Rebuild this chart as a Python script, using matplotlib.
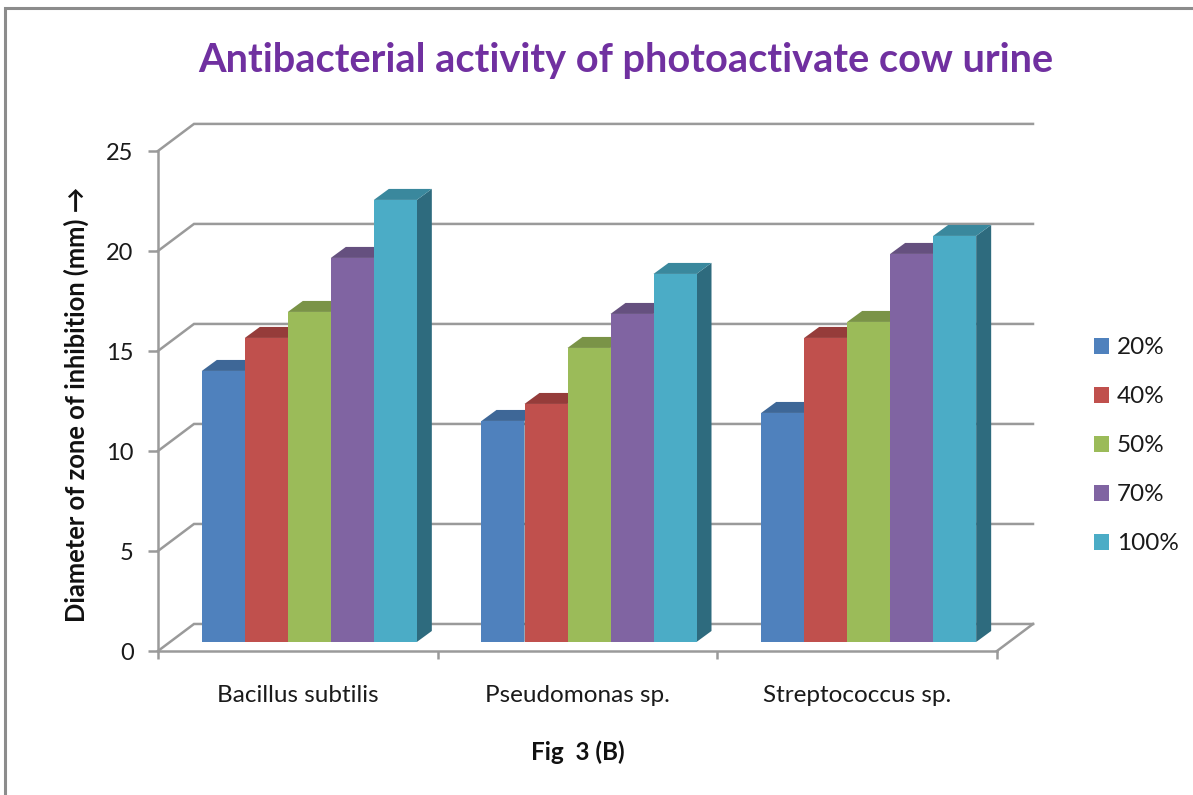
import matplotlib
matplotlib.use('Agg')
import matplotlib.pyplot as plt
from matplotlib.patches import Polygon, Patch

W, H = 1193, 795

categories = ['Bacillus subtilis', 'Pseudomonas sp.', 'Streptococcus sp.']
series = ['20%', '40%', '50%', '70%', '100%']
v20 = [13.55, 11.05, 11.45]
v40 = [15.2, 11.9, 15.2]
v50 = [16.5, 14.7, 16.0]
v70 = [19.2, 16.4, 19.4]
v100 = [22.1, 18.4, 20.3]
values = [v20, v40, v50, v70, v100]
yticks = [0, 5, 10, 15, 20, 25]

front = ['#4F81BD', '#C0504D', '#9BBB59', '#8064A2', '#4BACC6']
top = ['#3E6797', '#953C3A', '#7A9347', '#65507F', '#3A889D']
side = ['#32506F', '#6F2E2C', '#5B6E35', '#4B3B60', '#2E6B7E']
gridc = '#9A9A9A'

plt.rcParams['font.family'] = ['Lato', 'DejaVu Sans']

fig = plt.figure(figsize=(W / 100, (H + 0.1) / 100), dpi=100)
ax = fig.add_axes([158 / W, 1 - 651 / H, 839 / W, 500 / H])
ax.set_xlim(0, 3)
ax.set_ylim(0, 25)
ax.patch.set_alpha(0)

px = 3 / 839      # data units per pixel in x
py = 25 / 500     # same in y

# back wall and floor
bdx = 36 * px
bdy = 27 * py
for t in yticks:
    ax.plot([0, bdx, 3 + bdx], [t, t + bdy, t + bdy], color=gridc, lw=1.8,
            clip_on=False, zorder=1, solid_joinstyle='miter')
ax.plot([3, 3 + bdx], [0, bdy], color=gridc, lw=1.8, clip_on=False, zorder=1)

# bars, sitting a little behind the front plane
bw = 43 * px
ddx = 15 * px
ddy = 11 * py
base = 9 * py
shift = 11.5 * px
n = len(series)
for i in range(n):
    for j in range(len(categories)):
        v = values[i][j]
        x0 = j + 0.5 + shift + (i - n / 2) * bw
        x1 = x0 + bw
        yb = base
        yt = base + v
        ax.add_patch(Polygon([(x1, yb), (x1 + ddx, yb + ddy), (x1 + ddx, yt + ddy), (x1, yt)],
                             fc=side[i], ec='none', zorder=3 + i, clip_on=False))
        ax.add_patch(Polygon([(x0, yt), (x0 + ddx, yt + ddy), (x1 + ddx, yt + ddy), (x1, yt)],
                             fc=top[i], ec='none', zorder=3 + i, clip_on=False))
        ax.bar(x0, v, width=bw, bottom=yb, align='edge', color=front[i], ec='none',
               zorder=3 + i + 0.5, clip_on=False)

for s in ['top', 'right']:
    ax.spines[s].set_visible(False)
for s in ['left', 'bottom']:
    ax.spines[s].set_color(gridc)
    ax.spines[s].set_linewidth(1.8)
    ax.spines[s].set_zorder(2)

ax.set_yticks(yticks)
ax.tick_params(axis='y', length=7, width=1.8, color=gridc, labelsize=17, pad=10.5,
               labelcolor='#1a1a1a')
ax.set_xticks([0, 1, 2, 3])
ax.set_xticklabels([])
ax.tick_params(axis='x', which='major', length=6, width=1.8, color=gridc)
ax.set_xticks([0.5, 1.5, 2.5], minor=True)
ax.set_xticklabels(categories, minor=True)
ax.tick_params(axis='x', which='minor', length=0, labelsize=17.5, pad=24.5, labelcolor='#1a1a1a')

ax.set_xlabel('Fig  3 (B)', fontsize=17.5, fontweight='bold', labelpad=24.5, color='#111111')
ax.set_ylabel('Diameter of zone of inhibition (mm) →', fontsize=18.4, fontweight='bold',
              labelpad=12.5, y=0.493, color='#111111')

fig.text(626 / W, 1 - 60 / H, 'Antibacterial activity of photoactivate cow urine',
         ha='center', va='center', fontsize=28.6, fontweight='bold', color='#7030A0')

handles = [Patch(fc=c, ec='none') for c in front]
ax.legend(handles, series, loc='upper left', bbox_to_anchor=(1074.5 / W, 1 - 318 / H),
          bbox_transform=fig.transFigure, frameon=False, fontsize=17.5, handlelength=0.62,
          handleheight=0.62, handletextpad=0.33, labelspacing=1.15, borderpad=0.3,
          labelcolor='#1a1a1a')

# chart border, only left and top sides show in the image
fig.add_artist(plt.Line2D([5.5 / W, 5.5 / W, 1], [0, 1 - 8.5 / H, 1 - 8.5 / H],
                          color='#8C8C8C', lw=2.2, solid_joinstyle='miter'))

fig.savefig('out.png', dpi=100, facecolor='white')
